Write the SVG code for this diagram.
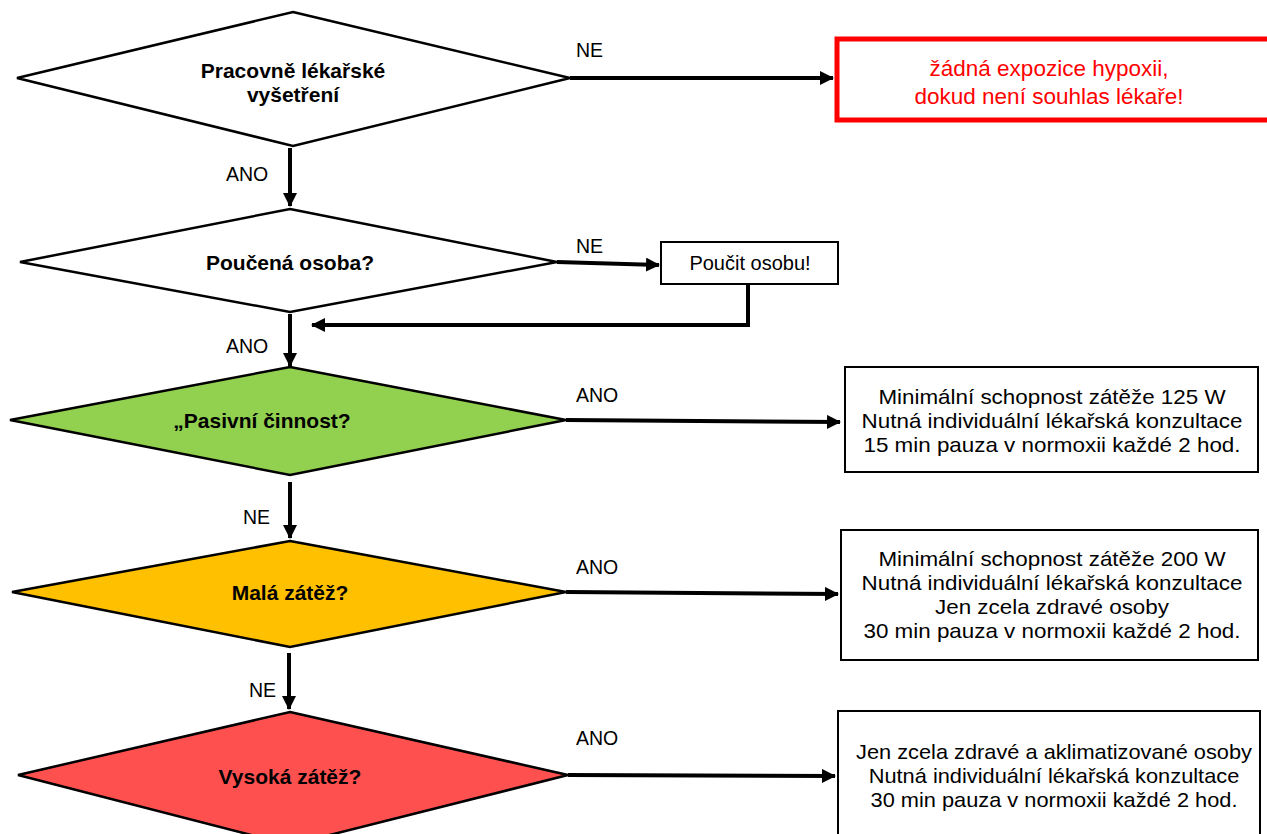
<svg xmlns="http://www.w3.org/2000/svg" width="1267" height="834" viewBox="0 0 1267 834">
<defs>
<marker id="ah" markerUnits="userSpaceOnUse" markerWidth="14" markerHeight="14" viewBox="0 0 14 14" refX="13" refY="7" orient="auto">
<path d="M0,0 L14,7 L0,14 Z" fill="#000"/>
</marker>
</defs>
<style>
.dia{stroke:#000;stroke-width:2.5;stroke-linejoin:miter}
.box{fill:#fff;stroke:#000;stroke-width:2}
.con{fill:none;stroke:#000;stroke-width:4;marker-end:url(#ah)}
.bt{font-family:"Liberation Sans",Arial,sans-serif;font-weight:bold;font-size:21px;fill:#000;text-anchor:middle}
.t{font-family:"Liberation Sans",Arial,sans-serif;font-size:20px;fill:#000;text-anchor:middle}
.lbl{font-family:"Liberation Sans",Arial,sans-serif;font-size:19.5px;fill:#000}
.red{font-family:"Liberation Sans",Arial,sans-serif;font-size:22.5px;fill:#ff0000;text-anchor:middle}
</style>
<rect width="1267" height="834" fill="#fff"/>
<g id="connectors">
<path class="con" d="M570,78 L833,78"/>
<path class="con" d="M290,148 L290,206"/>
<path class="con" d="M557,262 L659,265"/>
<path class="con" d="M748,284 L748,325 L312,325"/>
<path class="con" d="M290,314 L290,366"/>
<path class="con" d="M566,420 L840,422"/>
<path class="con" d="M290,482 L290,538"/>
<path class="con" d="M566,592 L838,594"/>
<path class="con" d="M289,653 L289,709"/>
<path class="con" d="M568,775 L835,776"/>
<text class="lbl" x="576" y="57">NE</text>
<text class="lbl" x="226" y="181">ANO</text>
<text class="lbl" x="576" y="253">NE</text>
<text class="lbl" x="226" y="353">ANO</text>
<text class="lbl" x="576" y="402">ANO</text>
<text class="lbl" x="243" y="524">NE</text>
<text class="lbl" x="576" y="574">ANO</text>
<text class="lbl" x="249" y="697">NE</text>
<text class="lbl" x="576" y="745">ANO</text>
</g>
<g id="d1">
<polygon class="dia" fill="#fff" points="293,12 570,78 293,146 17,78"/>
<text class="bt" x="293" y="78">Pracovně lékařské</text>
<text class="bt" x="293" y="102">vyšetření</text>
</g>
<g id="stop">
<rect x="837" y="39" width="440" height="81" fill="#fff" stroke="#ff0000" stroke-width="5"/>
<text class="red" x="1049" y="76">žádná expozice hypoxii,</text>
<text class="red" x="1049" y="104">dokud není souhlas lékaře!</text>
</g>
<g id="d2">
<polygon class="dia" fill="#fff" points="290,209 557,262 290,312 20,262"/>
<text class="bt" x="290" y="270">Poučená osoba?</text>
</g>
<g id="poucit">
<rect class="box" x="661" y="242" width="177" height="42"/>
<text class="t" x="750" y="270">Poučit osobu!</text>
</g>
<g id="d3">
<polygon class="dia" fill="#92d050" points="290,367 566,420 290,475 10,420"/>
<text class="bt" x="262" y="428">„Pasivní činnost?</text>
</g>
<g id="b3">
<rect class="box" x="845" y="367" width="413" height="105"/>
<g transform="translate(1052,0) scale(1.12,1) translate(-1052,0)">
<text class="t" x="1052" y="404">Minimální schopnost zátěže 125 W</text>
<text class="t" x="1052" y="428">Nutná individuální lékařská konzultace</text>
<text class="t" x="1052" y="452">15 min pauza v normoxii každé 2 hod.</text>
</g>
</g>
<g id="d4">
<polygon class="dia" fill="#ffc000" points="290,541 566,592 290,647 12,592"/>
<text class="bt" x="290" y="600">Malá zátěž?</text>
</g>
<g id="b4">
<rect class="box" x="841" y="530" width="417" height="130"/>
<g transform="translate(1052,0) scale(1.12,1) translate(-1052,0)">
<text class="t" x="1052" y="566">Minimální schopnost zátěže 200 W</text>
<text class="t" x="1052" y="590">Nutná individuální lékařská konzultace</text>
<text class="t" x="1052" y="614">Jen zcela zdravé osoby</text>
<text class="t" x="1052" y="638">30 min pauza v normoxii každé 2 hod.</text>
</g>
</g>
<g id="d5">
<polygon class="dia" fill="#ff5050" points="290,712 568,775 290,845 18,775"/>
<text class="bt" x="290" y="784">Vysoká zátěž?</text>
</g>
<g id="b5">
<rect class="box" x="838" y="711" width="422" height="140"/>
<g transform="translate(1054,0) scale(1.09,1) translate(-1054,0)">
<text class="t" x="1054" y="759">Jen zcela zdravé a aklimatizované osoby</text>
<text class="t" x="1054" y="783">Nutná individuální lékařská konzultace</text>
<text class="t" x="1054" y="807">30 min pauza v normoxii každé 2 hod.</text>
</g>
</g>
</svg>
